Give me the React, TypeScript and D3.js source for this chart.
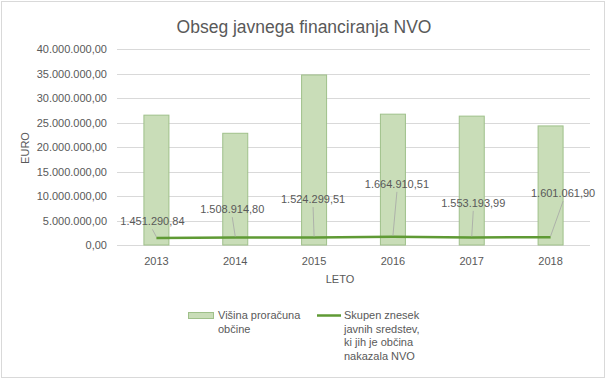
import React from "react";
import * as d3 from "d3";

const years = ["2013", "2014", "2015", "2016", "2017", "2018"];
const budget = [26500000, 22800000, 34700000, 26700000, 26300000, 24300000];
const ngoFunding = [1451290.84, 1508914.8, 1524299.51, 1664910.51, 1553193.99, 1601061.9];
const yTicks = [0, 5000000, 10000000, 15000000, 20000000, 25000000, 30000000, 35000000, 40000000];
// label offsets relative to the data point (layout only)
const labelOffsets: [number, number][] = [
  [-4, -12.5],
  [-3, -24.5],
  [-1, -34.5],
  [4, -49],
  [1.5, -30.5],
  [12.5, -40],
];

const W = 606;
const H = 379;
const FONT = "'Liberation Sans', Arial, sans-serif";
const TXT = "#595959";

const locale = d3.formatLocale({ decimal: ",", thousands: ".", grouping: [3], currency: ["", "€"] });
const fmt = locale.format(",.2f");

export default function App() {
  const x = d3.scaleBand<string>().domain(years).range([117, 590]);
  const y = d3.scaleLinear().domain([0, 40000000]).range([245, 49]);
  const barW = 25;
  const line = d3
    .line<number>()
    .x((_, i) => (x(years[i]) as number) + x.bandwidth() / 2)
    .y((d) => y(d));

  return (
    <svg
      width={W}
      height={H}
      style={{ position: "absolute", left: 0, top: 0 }}
      fontFamily={FONT}
    >
      <rect x={0} y={0} width={W} height={H} fill="#fff" />
      <rect x={1.5} y={1.5} width={W - 3} height={H - 3} fill="none" stroke="#d9d9d9" strokeWidth={1} />
      <text x={304} y={33} textAnchor="middle" fontSize={17.5} fill={TXT}>
        Obseg javnega financiranja NVO
      </text>

      {yTicks.map((t) => (
        <g key={t}>
          <line x1={117} x2={590} y1={Math.round(y(t)) + 0.5} y2={Math.round(y(t)) + 0.5} stroke="#d9d9d9" strokeWidth={1} />
          <text x={107} y={y(t) + 4} textAnchor="end" fontSize={11} fill={TXT}>
            {fmt(t)}
          </text>
        </g>
      ))}

      {budget.map((v, i) => {
        const cx = (x(years[i]) as number) + x.bandwidth() / 2;
        return (
          <rect
            key={years[i]}
            x={cx - barW / 2}
            y={y(v)}
            width={barW}
            height={y(0) - y(v)}
            fill="#c9ddb8"
            stroke="#9fc08a"
            strokeWidth={1}
          />
        );
      })}

      {years.map((yr) => (
        <text
          key={yr}
          x={(x(yr) as number) + x.bandwidth() / 2}
          y={265}
          textAnchor="middle"
          fontSize={11}
          fill={TXT}
        >
          {yr}
        </text>
      ))}

      <path d={line(ngoFunding) || ""} fill="none" stroke="#5f9a34" strokeWidth={2.5} />

      {ngoFunding.map((v, i) => {
        const px = (x(years[i]) as number) + x.bandwidth() / 2;
        const py = y(v);
        const [dx, dy] = labelOffsets[i];
        const lx = px + dx;
        const ly = py + dy;
        return (
          <g key={"l" + i}>
            <line x1={lx} y1={ly + 4} x2={px} y2={py - 1} stroke="#a6a6a6" strokeWidth={0.8} />
            <text x={lx} y={ly} textAnchor="middle" fontSize={11} fill={TXT}>
              {fmt(v)}
            </text>
          </g>
        );
      })}

      <text x={0} y={0} transform="translate(29,148) rotate(-90)" textAnchor="middle" fontSize={11} fill={TXT}>
        EURO
      </text>
      <text x={340} y={283} textAnchor="middle" fontSize={11} fill={TXT}>
        LETO
      </text>

      <rect x={188.5} y={312.5} width={25} height={6} fill="#c9ddb8" stroke="#9fc08a" strokeWidth={1} />
      <text x={218} y={319} fontSize={11} fill={TXT}>
        <tspan x={218} dy={0}>Višina proračuna</tspan>
        <tspan x={218} dy={13.5}>občine</tspan>
      </text>
      <line x1={317} x2={341} y1={315.5} y2={315.5} stroke="#5f9a34" strokeWidth={2.5} />
      <text x={344} y={319} fontSize={11} fill={TXT}>
        <tspan x={344} dy={0}>Skupen znesek</tspan>
        <tspan x={344} dy={13.5}>javnih sredstev,</tspan>
        <tspan x={344} dy={13.5}>ki jih je občina</tspan>
        <tspan x={344} dy={13.5}>nakazala NVO</tspan>
      </text>
    </svg>
  );
}
